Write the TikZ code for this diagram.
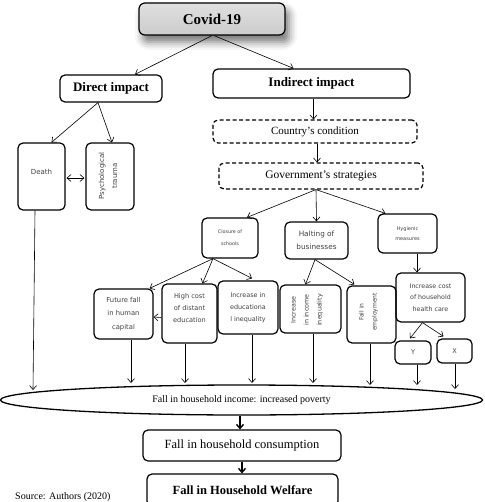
\documentclass[tikz,border=0pt]{standalone}
\usepackage{fontspec}
\setmainfont{Liberation Serif}
\newfontfamily\boxsf{DejaVu Sans}
\usetikzlibrary{arrows.meta,shapes.geometric,calc,shadows.blur}
\newcommand{\sfz}[2]{\boxsf\fontsize{#1}{#2}\selectfont}
\begin{document}
\begin{tikzpicture}[x=1pt,y=-1pt,
  box/.style={draw, line width=1.2pt, rounded corners=5pt, inner sep=1pt, align=center},
  dbox/.style={box, dash pattern=on 4pt off 2.5pt},
  sbox/.style={box, text=black!75},
  txt/.style={inner sep=0pt, align=center, text=black!75},
  rtxt/.style={txt, rotate=90},
  arr/.style={-{Straight Barb[length=4pt,width=7pt]}, line width=0.6pt},
  barr/.style={-{Straight Barb[length=4pt,width=7pt,line width=1.4pt]}, line width=1.6pt}
]
\useasboundingbox (0,0) rectangle (484,502);

% top level
\node[box, rounded corners=6pt, font=\bfseries\fontsize{15}{18}\selectfont,
  minimum width=146pt, minimum height=32pt,
  top color=gray!25, middle color=gray!5, bottom color=gray!40,
  blur shadow={shadow xshift=4pt, shadow yshift=-7pt, shadow blur radius=8pt, shadow opacity=55}]
  (covid) at (212,19) {Covid-19};
\node[box, font=\bfseries\fontsize{13}{15}\selectfont, minimum width=102pt, minimum height=27pt]
  (direct) at (111,88.5) {Direct impact};
\node[box, font=\bfseries\fontsize{13}{15}\selectfont, minimum width=197pt, minimum height=29pt]
  (indirect) at (311.5,83.5) {Indirect impact};
\node[dbox, font=\fontsize{11}{13}\selectfont, minimum width=204pt, minimum height=23pt]
  (country) at (315,131.5) {Country’s condition};
\node[dbox, font=\fontsize{11.5}{13}\selectfont, minimum width=204pt, minimum height=26pt]
  (gov) at (321,176) {Government’s strategies};

% direct branch
\node[sbox, minimum width=47pt, minimum height=67pt] (death) at (41.5,176.5) {};
\node[txt, font=\sfz{7}{12}] (deathT) at (41.5,172) {Death};
\node[sbox, minimum width=48pt, minimum height=67pt] (psych) at (110,176.5) {};
\node[rtxt, font=\sfz{7}{13}] (psychT) at (108,176) {Psychological\\trauma};

% strategies
\node[sbox, font=\sfz{4.8}{12}, minimum width=56pt, minimum height=40pt]
  (closure) at (230,238) {Closure of\\schools};
\node[sbox, font=\sfz{7.3}{13}, minimum width=63pt, minimum height=37pt]
  (halting) at (316.5,240.5) {Halting of\\businesses};
\node[sbox, font=\sfz{5}{10}, minimum width=59pt, minimum height=39pt]
  (hyg) at (407.5,233.5) {Hygienic\\measures};

% effects
\node[sbox, font=\sfz{6.8}{13.5}, minimum width=59pt, minimum height=50pt]
  (future) at (123.5,314) {Future fall\\in human\\capital};
\node[sbox, minimum width=55pt, minimum height=59pt] (high) at (189.5,313.5) {};
\node[txt, font=\sfz{6.6}{12}] (highT) at (189.5,308) {High cost\\of distant\\education};
\node[sbox, font=\sfz{6.4}{12}, minimum width=60pt, minimum height=53pt]
  (edu) at (248,307.5) {Increase in\\educationa\\l inequality};
\node[sbox, minimum width=61pt, minimum height=48pt] (inc) at (310.5,309) {};
\node[rtxt, font=\sfz{6.4}{13}] (incT) at (307,310) {Increase\\in income\\inequality};
\node[sbox, minimum width=49pt, minimum height=57pt] (emp) at (371.5,314.5) {};
\node[rtxt, font=\sfz{6}{13}] (empT) at (368.5,312) {Fall in\\employment};
\node[sbox, font=\sfz{6.3}{11.7}, minimum width=69pt, minimum height=49pt]
  (cost) at (430.5,297.5) {Increase cost\\of household\\health care};
\node[sbox, font=\sfz{6.5}{12}, minimum width=36pt, minimum height=23pt] (Y) at (413,352.5) {Y};
\node[sbox, font=\sfz{6.5}{12}, minimum width=35pt, minimum height=24pt] (X) at (454.5,351) {X};

% bottom
\node[draw, ellipse, line width=1.3pt, minimum width=482pt, minimum height=30pt, inner sep=0pt,
  font=\fontsize{10}{12}\selectfont] (ell) at (241.5,400) {Fall in household income: increased poverty};
\node[box, font=\fontsize{12.5}{14}\selectfont, minimum width=198pt, minimum height=31pt]
  (cons) at (242,445.5) {Fall in household consumption};
\node[box, font=\bfseries\fontsize{12.5}{14}\selectfont, minimum width=191pt, minimum height=32pt]
  (welf) at (242.5,490) {Fall in Household Welfare};
\node[anchor=base west, inner sep=0pt, font=\fontsize{10}{12}\selectfont] (src) at (15,499) {Source: Authors (2020)};

% connectors
\draw[arr] ($(covid.south)+(0,0)$) -- ($(direct.north)+(24,0)$);
\draw[arr] ($(covid.south)+(2,0)$) -- ($(indirect.north)+(-18,0)$);
\draw[arr] ($(direct.south)+(-13,0)$) -- ($(death.north)+(10,0)$);
\draw[arr] ($(direct.south)+(-13,0)$) -- ($(psych.north)+(2,0)$);
\draw[{Straight Barb[length=4pt,width=7pt]}-{Straight Barb[length=4pt,width=7pt]}, line width=0.6pt]
  ($(death.east)+(1,1.5)$) -- ($(psych.west)+(-1,1.5)$);
\draw[arr] ($(indirect.south)+(2,0)$) -- ($(indirect.south |- country.north)+(2,0)$);
\draw[arr] ($(country.south)+(2,0)$) -- ($(country.south |- gov.north)+(2,0)$);
\draw[arr] ($(gov.south)+(-5,0)$) -- ($(closure.north)+(17,0)$);
\draw[arr] ($(gov.south)+(-5,0)$) -- (halting.north);
\draw[arr] ($(gov.south)+(-5,0)$) -- ($(hyg.north west)+(8,0)$);
\draw[arr] ($(closure.south)+(-17,0)$) -- ($(future.north east)+(-4,0)$);
\draw[arr] ($(closure.south)+(-17,0)$) -- ($(high.north)+(13,0)$);
\draw[arr] ($(closure.south)+(-17,0)$) -- ($(edu.north)+(4,-2)$);
\draw[arr] ($(high.west)+(0,4)$) -- ($(future.east)+(0,3)$);
\draw[arr] ($(halting.south)+(-1.5,0)$) -- ($(inc.north)+(-5,0)$);
\draw[arr] ($(halting.south)+(-1.5,0)$) -- ($(emp.north west)+(8,-1)$);
\draw[arr] ($(hyg.south)+(9.5,0)$) -- ($(cost.north)+(-13.5,0)$);
\draw[arr] ($(cost.south)+(-8,0)$) -- ($(Y.north)+(-3,-2)$);
\draw[arr] ($(cost.south)+(-8,0)$) -- ($(X.north)+(-11,-2)$);

\coordinate (eDeath) at (33,390);
\coordinate (eFut) at (131,383);
\coordinate (eHigh) at (185,383);
\coordinate (eEdu) at (252,383);
\coordinate (eInc) at (313,383);
\coordinate (eEmp) at (370,385);
\coordinate (eY) at (417,385);
\coordinate (eX) at (455,389);
\draw[arr] ($(death.south)+(-6.5,0)$) -- (eDeath);
\draw[arr] (future.south -| eFut) -- (eFut);
\draw[arr] (high.south -| eHigh) -- (eHigh);
\draw[arr] (edu.south -| eEdu) -- (eEdu);
\draw[arr] (inc.south -| eInc) -- (eInc);
\draw[arr] (emp.south -| eEmp) -- (eEmp);
\draw[arr] (Y.south -| eY) -- (eY);
\draw[arr] (X.south -| eX) -- (eX);

\draw[barr] ($(ell.south)+(-1.5,0)$) -- ($(cons.north)+(-2,0)$);
\draw[barr] (cons.south) -- (cons.south |- welf.north);
\end{tikzpicture}
\end{document}
